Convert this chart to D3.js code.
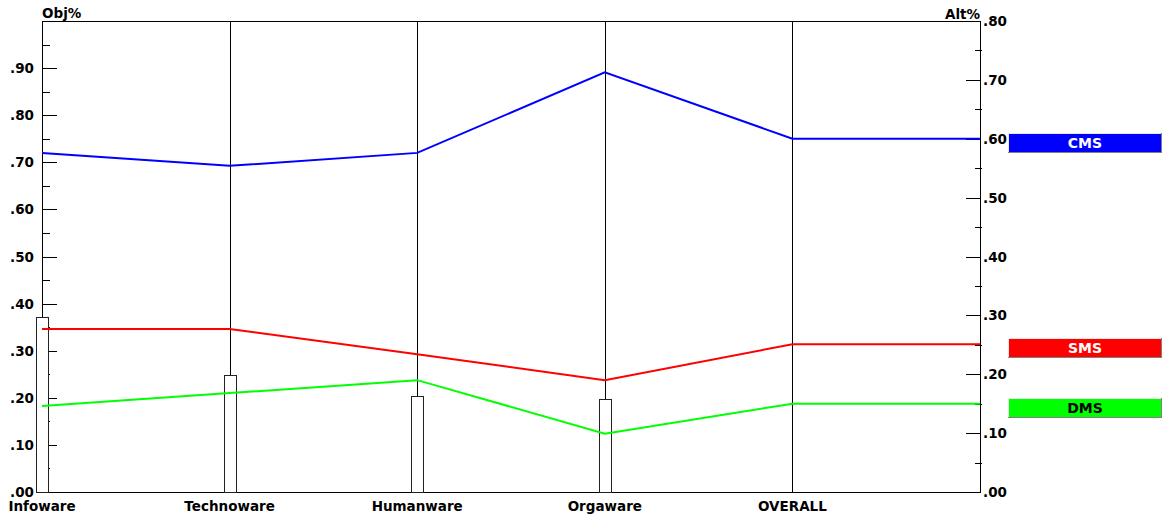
<!DOCTYPE html>
<html>
<head>
<meta charset="utf-8">
<script src="https://cdn.jsdelivr.net/npm/d3@7"></script>
<style>
  html, body { margin: 0; padding: 0; background: #fff; }
  svg { display: block; }
  text { font-family: "DejaVu Sans", sans-serif; font-weight: bold; font-size: 13.5px; fill: #000; }
</style>
</head>
<body>
<svg id="chart" width="1163" height="517"></svg>
<script>
// ---- data ----
const categories = ["Infoware", "Technoware", "Humanware", "Orgaware", "OVERALL"];
const objWeights = [0.372, 0.248, 0.204, 0.198];          // bars, left axis (Obj%)
const seriesNames = ["CMS", "SMS", "DMS"];
const cmsValues = [0.576, 0.554, 0.576, 0.713, 0.600];     // right axis (Alt%)
const smsValues = [0.277, 0.277, 0.234, 0.190, 0.251];
const dmsValues = [0.146, 0.168, 0.190, 0.099, 0.150];
const seriesColors = ["#0000ff", "#ff0000", "#00ff00"];
const legendTextColors = ["#ffffff", "#ffffff", "#000000"];
const leftTicks = [".00", ".10", ".20", ".30", ".40", ".50", ".60", ".70", ".80", ".90"];
const rightTicks = [".00", ".10", ".20", ".30", ".40", ".50", ".60", ".70", ".80"];

const series = [cmsValues, smsValues, dmsValues];

// ---- layout ----
const svg = d3.select("#chart");
const L = 42, R = 980, T = 21, B = 492;

const x = d3.scaleLinear().domain([0, categories.length]).range([L, R]);
const yL = d3.scaleLinear().domain([0, 1]).range([B, T]);
const yR = d3.scaleLinear().domain([0, 0.8]).range([B, T]);

const g = svg.append("g");

// frame: top, bottom, left axis, right axis
const frame = g.append("g").attr("stroke", "#000").attr("stroke-width", 1).attr("shape-rendering", "crispEdges");
frame.append("line").attr("x1", L).attr("x2", R).attr("y1", T + 0.5).attr("y2", T + 0.5);
frame.append("line").attr("x1", L - 6).attr("x2", R).attr("y1", B + 0.5).attr("y2", B + 0.5);
frame.append("line").attr("x1", L + 0.5).attr("x2", L + 0.5).attr("y1", T).attr("y2", B + 1);
frame.append("line").attr("x1", R + 0.5).attr("x2", R + 0.5).attr("y1", T).attr("y2", B + 1);

// category vertical lines
frame.selectAll("line.cat").data(categories.slice(1)).enter().append("line")
  .attr("class", "cat")
  .attr("x1", (d, i) => Math.round(x(i + 1)) + 0.5)
  .attr("x2", (d, i) => Math.round(x(i + 1)) + 0.5)
  .attr("y1", T).attr("y2", B);

// left ticks (major every .10, minor every .05)
const leftTickVals = d3.range(0, 20).map(i => i * 0.05);
frame.selectAll("line.lt").data(leftTickVals).enter().append("line")
  .attr("class", "lt")
  .attr("x1", L)
  .attr("x2", (d, i) => i % 2 === 0 ? L + 15 : L + 8)
  .attr("y1", d => Math.round(yL(d)) + 0.5)
  .attr("y2", d => Math.round(yL(d)) + 0.5);

// right ticks
const rightTickVals = d3.range(0, 17).map(i => i * 0.05);
frame.selectAll("line.rt").data(rightTickVals).enter().append("line")
  .attr("class", "rt")
  .attr("x1", (d, i) => i % 2 === 0 ? R - 14 : R - 5)
  .attr("x2", (d, i) => i % 2 === 0 ? R : R + 2)
  .attr("y1", d => Math.round(yR(d)) + 0.5)
  .attr("y2", d => Math.round(yR(d)) + 0.5);

// left tick labels
g.selectAll("text.ll").data(leftTicks).enter().append("text")
  .attr("class", "ll")
  .attr("x", 34)
  .attr("y", (d, i) => yL(i * 0.1) + 5)
  .attr("text-anchor", "end")
  .text(d => d);

// right tick labels
g.selectAll("text.rl").data(rightTicks).enter().append("text")
  .attr("class", "rl")
  .attr("x", R + 3)
  .attr("y", (d, i) => yR(i * 0.1) + 5)
  .attr("text-anchor", "start")
  .text(d => d);

// axis titles
g.append("text").attr("x", L).attr("y", 18).attr("text-anchor", "start").text("Obj%");
g.append("text").attr("x", R).attr("y", 19).attr("text-anchor", "end").text("Alt%");

// category labels
g.selectAll("text.cl").data(categories).enter().append("text")
  .attr("class", "cl")
  .attr("x", (d, i) => x(i))
  .attr("y", 511)
  .attr("text-anchor", "middle")
  .text(d => d);

// bars (objective weights)
g.append("g").attr("shape-rendering", "crispEdges")
  .selectAll("rect").data(objWeights).enter().append("rect")
  .attr("x", (d, i) => Math.round(x(i)) - 5.5)
  .attr("y", d => Math.round(yL(d)) + 0.5)
  .attr("width", 12)
  .attr("height", d => B - Math.round(yL(d)))
  .attr("fill", "#fff")
  .attr("stroke", "#222")
  .attr("stroke-width", 1);

// lines
const lineGen = d3.line().x(d => x(d[0])).y(d => yR(d[1]));
series.forEach((vals, s) => {
  const pts = vals.map((v, i) => [i, v]);
  pts.push([categories.length, vals[vals.length - 1]]);
  g.append("path")
    .attr("d", lineGen(pts))
    .attr("fill", "none")
    .attr("stroke", seriesColors[s])
    .attr("stroke-width", 2);
});

// legend boxes at line ends
const lg = g.append("g").attr("shape-rendering", "crispEdges");
seriesNames.forEach((name, s) => {
  const vals = series[s];
  const yy = Math.round(yR(vals[vals.length - 1])) - 6;
  const bx = 1008, bw = 154, bh = 20;
  const box = lg.append("g").attr("transform", `translate(${bx},${yy})`);
  box.append("rect").attr("x", 0).attr("y", 0).attr("width", bw).attr("height", bh).attr("fill", seriesColors[s]);
  box.append("line").attr("x1", 0).attr("x2", bw).attr("y1", 0.5).attr("y2", 0.5).attr("stroke", "#e8e8e8").attr("stroke-width", 1);
  box.append("line").attr("x1", 0.5).attr("x2", 0.5).attr("y1", 0).attr("y2", bh).attr("stroke", "#e8e8e8").attr("stroke-width", 1);
  box.append("line").attr("x1", 0).attr("x2", bw).attr("y1", bh - 0.5).attr("y2", bh - 0.5).attr("stroke", "#808080").attr("stroke-width", 1);
  box.append("line").attr("x1", bw - 0.5).attr("x2", bw - 0.5).attr("y1", 0).attr("y2", bh).attr("stroke", "#808080").attr("stroke-width", 1);
  box.append("text").attr("x", bw / 2).attr("y", 15).attr("text-anchor", "middle")
    .style("font-size", "14px")
    .style("fill", legendTextColors[s]).text(name);
});
</script>
</body>
</html>
